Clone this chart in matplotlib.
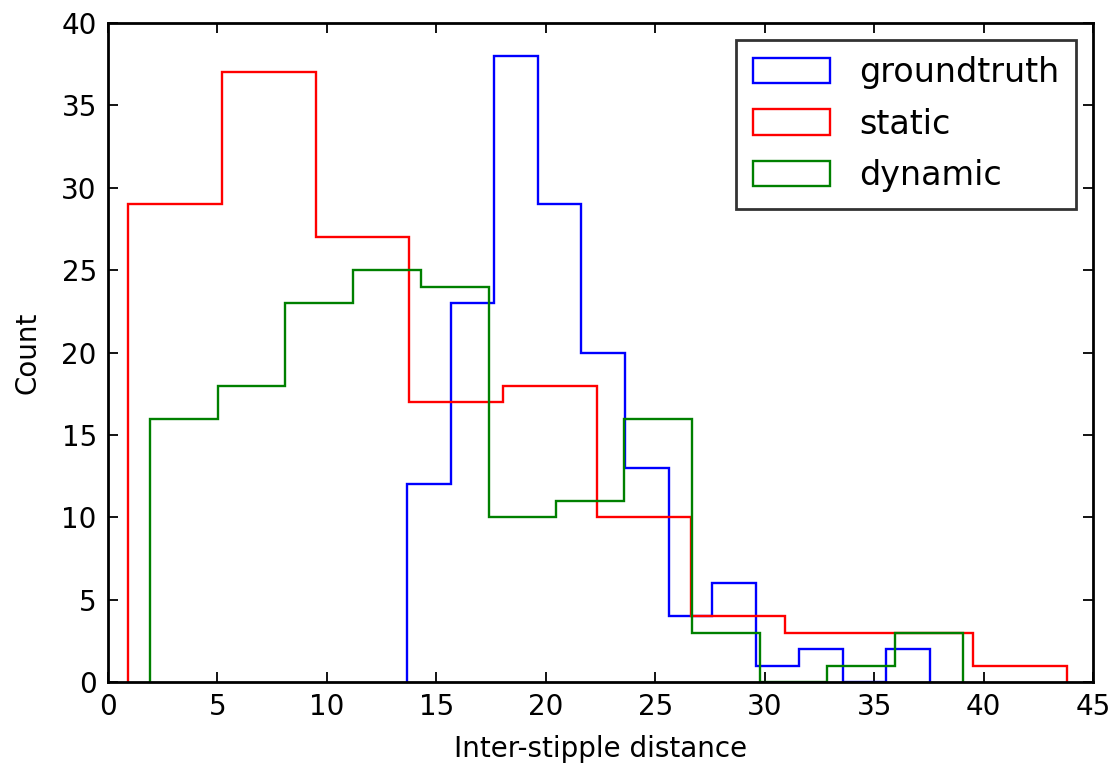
import numpy as np
import matplotlib
matplotlib.use("Agg")
import matplotlib.pyplot as plt

# bin edges and counts for each distance histogram
gt_edges = [13.67, 15.66, 17.65, 19.64, 21.63, 23.62, 25.61, 27.60, 29.59, 31.58, 33.57, 35.56, 37.55]
gt_counts = [12, 23, 38, 29, 20, 13, 4, 6, 1, 2, 0, 2]

static_edges = [0.9, 5.19, 9.48, 13.77, 18.06, 22.35, 26.64, 30.93, 35.22, 39.51, 43.8]
static_counts = [29, 37, 27, 17, 18, 10, 4, 3, 3, 1]

dyn_edges = [1.91, 5.01, 8.10, 11.20, 14.29, 17.39, 20.48, 23.58, 26.67, 29.77, 32.86, 35.96, 39.05]
dyn_counts = [16, 18, 23, 25, 24, 10, 11, 16, 3, 0, 1, 3]

plt.rcParams['font.family'] = ['DejaVu Sans']
plt.rcParams['font.size'] = 20

fig = plt.figure(figsize=(11.12, 7.66), dpi=100)
ax = fig.add_axes([0.0971, 0.1093, 0.8859, 0.8607])

for edges, counts, col, lab in [(gt_edges, gt_counts, 'b', 'groundtruth'),
                                 (static_edges, static_counts, 'r', 'static'),
                                 (dyn_edges, dyn_counts, 'g', 'dynamic')]:
    ax.hist(edges[:-1], bins=edges, weights=counts, histtype='step',
            color=col, linewidth=1.7, label=lab)

ax.set_xlim(0, 45)
ax.set_ylim(0, 40)
ax.set_xticks(np.arange(0, 46, 5))
ax.set_yticks(np.arange(0, 41, 5))
ax.tick_params(direction='in', length=7, width=1.3, top=True, right=True, pad=8)
for s in ax.spines.values():
    s.set_linewidth(2.0)

ax.set_xlabel('Inter-stipple distance', labelpad=10)
ax.set_ylabel('Count', labelpad=14)

leg = ax.legend(loc='upper right', fontsize=24, handlelength=2.3, handleheight=0.8,
                handletextpad=0.9, labelspacing=0.55, borderpad=0.5,
                borderaxespad=0.5, fancybox=False)
leg.get_frame().set_edgecolor('black')
leg.get_frame().set_linewidth(2.0)

fig.savefig('out.png', dpi=100)
